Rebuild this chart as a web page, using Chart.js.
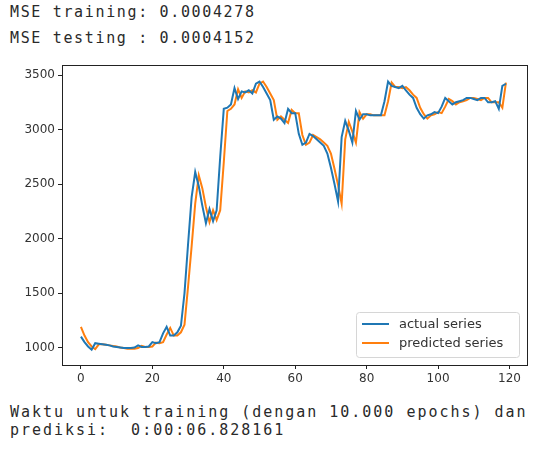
<!DOCTYPE html>
<html>
<head>
<meta charset="utf-8">
<script src="https://cdn.jsdelivr.net/npm/chart.js@4.4.0/dist/chart.umd.min.js"></script>
<style>
  html, body { margin: 0; padding: 0; background: #fff; }
  body { width: 534px; height: 451px; position: relative; overflow: hidden; }
  .out { position: absolute; left: 10px; font: 15px/15px "DejaVu Sans Mono", monospace; letter-spacing: 1.65px; color: #2a2a2a; white-space: pre; }
  #chartWrap { position: absolute; left: 0; top: 55px; width: 534px; height: 345px; }
</style>
</head>
<body>
<div class="out" style="top:5px">MSE training: 0.0004278</div>
<div class="out" style="top:31px">MSE testing : 0.0004152</div>
<div id="chartWrap"><canvas id="c" width="534" height="345"></canvas></div>
<div class="out" style="top:405px; letter-spacing:1.98px">Waktu untuk training (dengan 10.000 epochs) dan</div>
<div class="out" style="top:423px; letter-spacing:1.98px">prediksi:  0:00:06.828161</div>

<script>
const actualSeries = [
  1100, 1050, 1010, 980, 1040, 1035, 1030, 1025, 1020, 1010,
  1005, 1000, 995, 995, 995, 1000, 1020, 1005, 1005, 1010,
  1050, 1040, 1050, 1130, 1190, 1110, 1110, 1140, 1200, 1500,
  1950, 2380, 2610, 2480, 2300, 2140, 2270, 2160, 2260, 2750,
  3190, 3200, 3230, 3380, 3280, 3350, 3340, 3360, 3330, 3420,
  3440, 3390, 3330, 3270, 3090, 3120, 3100, 3060, 3190, 3150,
  3150, 2960, 2860, 2880, 2960, 2940, 2910, 2880, 2850, 2780,
  2650, 2500, 2340, 2930, 3080, 2990, 2880, 3170, 3090, 3140,
  3140, 3130, 3130, 3130, 3130, 3260, 3440, 3400, 3390, 3380,
  3400, 3360, 3320, 3290, 3200, 3140, 3100, 3130, 3140, 3160,
  3150, 3210, 3290, 3260, 3230, 3250, 3260, 3270, 3290, 3290,
  3280, 3270, 3290, 3290, 3250, 3250, 3260, 3190, 3400, 3420
];
const predictedSeries = [
  1190, 1110, 1050, 1010, 985, 1030, 1030, 1025, 1020, 1015,
  1010, 1000, 995, 990, 990, 990, 995, 1015, 1005, 1005,
  1010, 1045, 1040, 1050, 1120, 1180, 1110, 1110, 1140, 1210,
  1560, 1930, 2320, 2580, 2460, 2290, 2150, 2260, 2170, 2260,
  2700, 3170, 3190, 3230, 3370, 3290, 3350, 3340, 3360, 3340,
  3420, 3440, 3390, 3330, 3270, 3090, 3120, 3090, 3060, 3180,
  3150, 3150, 2950, 2860, 2880, 2950, 2930, 2910, 2880, 2850,
  2780, 2640, 2490, 2320, 2910, 3070, 2980, 2880, 3160, 3100,
  3140, 3140, 3130, 3130, 3130, 3130, 3260, 3430, 3390, 3390,
  3380, 3390, 3360, 3320, 3290, 3200, 3140, 3100, 3130, 3140,
  3160, 3150, 3210, 3280, 3260, 3230, 3250, 3260, 3270, 3290,
  3290, 3280, 3270, 3290, 3290, 3250, 3250, 3250, 3200, 3430
];
const xTicks = [0, 20, 40, 60, 80, 100, 120];
const yTicks = [1000, 1500, 2000, 2500, 3000, 3500];
const seriesLabels = ['actual series', 'predicted series'];

const toPoints = arr => arr.map((v, i) => ({ x: i, y: v }));

// full matplotlib-like frame around the axes
const framePlugin = {
  id: 'frame',
  afterDatasetsDraw(chart) {
    const { ctx, chartArea: a } = chart;
    ctx.save();
    ctx.strokeStyle = '#222';
    ctx.lineWidth = 1;
    ctx.strokeRect(Math.round(a.left) + 0.5, Math.round(a.top) + 0.5, Math.round(a.width), Math.round(a.height));
    ctx.restore();
  }
};

// legend box in the lower right corner, inside the axes
const legendPlugin = {
  id: 'boxLegend',
  afterDraw(chart) {
    const { ctx, chartArea: a } = chart;
    const w = 163, h = 45;
    const left = a.right - 8 - w, top = a.bottom - 8 - h;
    ctx.save();
    ctx.beginPath();
    ctx.roundRect(left + 0.5, top + 0.5, w, h, 3);
    ctx.fillStyle = 'rgba(255,255,255,0.8)';
    ctx.fill();
    ctx.strokeStyle = '#d6d6d6';
    ctx.lineWidth = 1;
    ctx.stroke();
    ctx.font = '13px "DejaVu Sans", sans-serif';
    ctx.textBaseline = 'middle';
    chart.data.datasets.forEach((ds, i) => {
      const y = top + 12 + i * 19;
      ctx.strokeStyle = ds.borderColor;
      ctx.lineWidth = 2;
      ctx.beginPath();
      ctx.moveTo(left + 6, y);
      ctx.lineTo(left + 33, y);
      ctx.stroke();
      ctx.fillStyle = '#333';
      ctx.fillText(ds.label, left + 43, y + 1);
    });
    ctx.restore();
  }
};

new Chart(document.getElementById('c'), {
  type: 'line',
  data: {
    datasets: [
      { label: seriesLabels[0], data: toPoints(actualSeries), borderColor: '#1f77b4', borderWidth: 2, pointRadius: 0, tension: 0 },
      { label: seriesLabels[1], data: toPoints(predictedSeries), borderColor: '#ff7f0e', borderWidth: 2, pointRadius: 0, tension: 0 }
    ]
  },
  options: {
    responsive: false,
    animation: false,
    layout: { padding: { top: 7, right: 7, left: 0, bottom: 0 } },
    plugins: { legend: { display: false }, tooltip: { enabled: false } },
    scales: {
      x: {
        type: 'linear',
        min: -5.3,
        max: 124.9,
        afterBuildTicks: s => { s.ticks = xTicks.map(v => ({ value: v })); },
        afterFit: s => { s.height = 35; },
        border: { display: false },
        grid: { drawOnChartArea: false, drawTicks: true, tickLength: 4, color: '#222' },
        ticks: { color: '#333', font: { family: 'DejaVu Sans', size: 12 }, padding: 3, maxRotation: 0, callback: v => String(v) }
      },
      y: {
        min: 840,
        max: 3590,
        afterBuildTicks: s => { s.ticks = yTicks.map(v => ({ value: v })); },
        afterFit: s => { s.width = 62; },
        border: { display: false },
        grid: { drawOnChartArea: false, drawTicks: true, tickLength: 4, color: '#222' },
        ticks: { color: '#333', font: { family: 'DejaVu Sans', size: 12 }, padding: 3, callback: v => String(v) }
      }
    }
  },
  plugins: [framePlugin, legendPlugin]
});
</script>
</body>
</html>
